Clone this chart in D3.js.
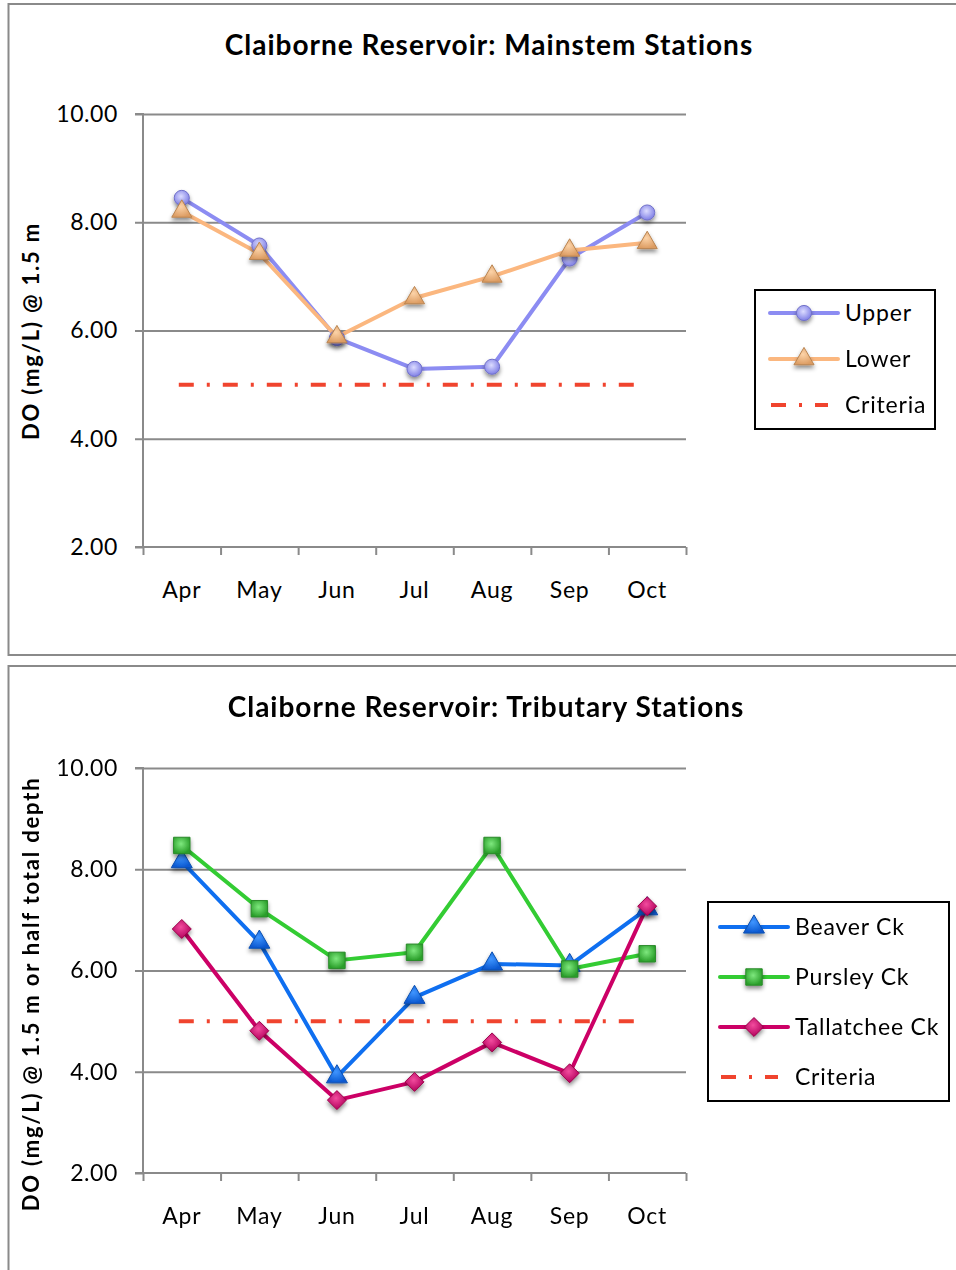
<!DOCTYPE html>
<html>
<head>
<meta charset="utf-8">
<script src="https://cdn.jsdelivr.net/npm/d3@7"></script>
<style>
  html, body { margin: 0; padding: 0; background: #fff; }
  svg { display: block; font-family: Lato, "Open Sans", sans-serif; }
</style>
</head>
<body>
<svg id="chart" width="956" height="1270"></svg>
<script>
// Monthly dissolved oxygen (mg/L), Claiborne Reservoir
const months = ["Apr", "May", "Jun", "Jul", "Aug", "Sep", "Oct"];
const yTicks = [2, 4, 6, 8, 10];
const criteriaDO = 5.0;

// Mainstem stations
const upperDO = [8.45, 7.57, 5.86, 5.29, 5.33, 7.33, 8.18];
const lowerDO = [8.20, 7.42, 5.88, 6.60, 7.00, 7.48, 7.62];

// Tributary stations
const beaverDO = [8.15, 6.56, 3.90, 5.47, 6.13, 6.10, 7.22];
const pursleyDO = [8.47, 7.22, 6.20, 6.36, 8.47, 6.03, 6.33];
const tallatcheeDO = [6.82, 4.81, 3.44, 3.80, 4.58, 3.97, 7.27];

const svg = d3.select("#chart");
const defs = svg.append("defs");

// soft shadow under markers
const shadow = defs.append("filter").attr("id", "mk-shadow")
  .attr("x", "-50%").attr("y", "-50%").attr("width", "200%").attr("height", "220%");
shadow.append("feDropShadow").attr("dx", 0).attr("dy", 3)
  .attr("stdDeviation", 2).attr("flood-color", "#000").attr("flood-opacity", 0.45);

function radial(id, inner, outer) {
  const g = defs.append("radialGradient").attr("id", id)
    .attr("cx", "45%").attr("cy", "40%").attr("r", "60%");
  g.append("stop").attr("offset", "0%").attr("stop-color", inner);
  g.append("stop").attr("offset", "100%").attr("stop-color", outer);
}
radial("g-upper", "#dcdcff", "#7f7fe6");
radial("g-lower", "#fcd3a8", "#dc9c62");
radial("g-beaver", "#3f95ff", "#0a58d0");
radial("g-pursley", "#7ee87e", "#2a9e2a");
radial("g-tall", "#f24c9e", "#b3005c");

const criteriaStyle = { color: "#f0442e", dash: "15,13,3,13" };

function drawPanel(cfg) {
  const g = svg.append("g");

  // panel frame
  g.append("rect")
    .attr("x", 8.5).attr("y", cfg.frameTop)
    .attr("width", 970).attr("height", cfg.frameHeight)
    .attr("fill", "none").attr("stroke", "#8a8a8a").attr("stroke-width", 2);

  const x = d3.scaleBand().domain(months).range([143, 686]);
  const xc = m => x(m) + x.bandwidth() / 2;
  const y = d3.scaleLinear().domain([2, 10]).range([cfg.bottom, cfg.top]);

  // title
  g.append("text")
    .attr("x", cfg.titleX).attr("y", cfg.titleY)
    .attr("text-anchor", "middle")
    .attr("font-size", 28).attr("font-weight", "bold").attr("letter-spacing", 1)
    .attr("fill", "#000")
    .text(cfg.title);

  // horizontal gridlines
  g.append("g")
    .attr("transform", "translate(143,0)")
    .call(d3.axisLeft(y).tickValues(yTicks.filter(v => v > 2)).tickSize(-543).tickFormat(""))
    .call(s => s.select(".domain").remove())
    .call(s => s.selectAll("line").attr("stroke", "#8a8a8a").attr("stroke-width", 2));

  // y axis
  g.append("g")
    .attr("transform", "translate(143,0)")
    .call(d3.axisLeft(y).tickValues(yTicks).tickSize(8).tickPadding(17).tickFormat(d3.format(".2f")))
    .call(s => s.select(".domain").attr("stroke", "#8a8a8a").attr("stroke-width", 2).attr("d", `M-8,${y(10)}H0V${y(2)}H-8`))
    .call(s => s.selectAll("line").attr("stroke", "#8a8a8a").attr("stroke-width", 2))
    .call(s => s.selectAll("text").attr("font-size", 23).attr("letter-spacing", 0.6)
      .attr("fill", "#000").attr("font-family", "Lato, sans-serif"));

  // x axis: boundary ticks
  const xb = d3.scaleLinear().domain([0, months.length]).range([143, 686]);
  g.append("g")
    .attr("transform", `translate(0,${cfg.bottom})`)
    .call(d3.axisBottom(xb).tickValues(d3.range(months.length + 1)).tickSize(8).tickFormat(""))
    .call(s => s.select(".domain").attr("stroke", "#8a8a8a").attr("stroke-width", 2).attr("d", "M143,0H686"))
    .call(s => s.selectAll("line").attr("stroke", "#8a8a8a").attr("stroke-width", 2));

  // x axis: month labels
  g.append("g")
    .attr("transform", `translate(0,${cfg.bottom})`)
    .call(d3.axisBottom(x).tickSize(0).tickPadding(35))
    .call(s => s.select(".domain").remove())
    .call(s => s.selectAll("text").attr("font-size", 23).attr("letter-spacing", 0.8)
      .attr("fill", "#000").attr("font-family", "Lato, sans-serif"));

  // y axis title
  g.append("text")
    .attr("transform", `translate(39,${cfg.yLabelY}) rotate(-90)`)
    .attr("text-anchor", "middle")
    .attr("font-size", 22).attr("font-weight", "bold").attr("letter-spacing", 1.8)
    .attr("fill", "#000")
    .text(cfg.yLabel);

  // criteria line
  g.append("line")
    .attr("x1", xc(months[0]) - 3).attr("x2", xc(months[months.length - 1]) - 2)
    .attr("y1", y(criteriaDO)).attr("y2", y(criteriaDO))
    .attr("stroke", criteriaStyle.color).attr("stroke-width", 4)
    .attr("stroke-dasharray", criteriaStyle.dash);

  const line = d3.line().x((d, i) => xc(months[i])).y(d => y(d));

  // series lines
  cfg.series.forEach(s => {
    g.append("path").datum(s.values)
      .attr("d", line)
      .attr("fill", "none").attr("stroke", s.color).attr("stroke-width", 4)
      .attr("stroke-linejoin", "round");
  });

  // series markers
  cfg.series.forEach(s => {
    g.append("g").attr("filter", "url(#mk-shadow)")
      .selectAll("path").data(s.values).join("path")
      .attr("transform", (d, i) => `translate(${xc(months[i])},${y(d)})`)
      .attr("d", d3.symbol(s.symbol, s.size)())
      .attr("fill", `url(#${s.grad})`)
      .attr("stroke", s.edge).attr("stroke-width", 1);
  });

  // legend
  const lg = g.append("g");
  lg.append("rect")
    .attr("x", cfg.legend.x).attr("y", cfg.legend.y)
    .attr("width", cfg.legend.w).attr("height", cfg.legend.h)
    .attr("fill", "#fff").attr("stroke", "#000").attr("stroke-width", 2);
  const items = cfg.series.map(s => ({ name: s.name, s }))
    .concat([{ name: "Criteria", s: null }]);
  items.forEach((it, i) => {
    const ry = cfg.legend.rowY0 + i * cfg.legend.rowStep;
    const x0 = cfg.legend.x + cfg.legend.lineX0;
    const x1 = x0 + 68;
    if (it.s) {
      lg.append("line").attr("x1", x0).attr("x2", x1).attr("y1", ry).attr("y2", ry)
        .attr("stroke", it.s.color).attr("stroke-width", 4).attr("stroke-linecap", "round");
      lg.append("path")
        .attr("transform", `translate(${(x0 + x1) / 2},${ry})`)
        .attr("d", d3.symbol(it.s.symbol, it.s.size)())
        .attr("fill", `url(#${it.s.grad})`).attr("stroke", it.s.edge).attr("stroke-width", 1)
        .attr("filter", "url(#mk-shadow)");
    } else {
      lg.append("line").attr("x1", x0 + 1).attr("x2", x1 - 10).attr("y1", ry).attr("y2", ry)
        .attr("stroke", criteriaStyle.color).attr("stroke-width", 4)
        .attr("stroke-dasharray", "15,13,3,13");
    }
    lg.append("text")
      .attr("x", x1 + 7).attr("y", ry).attr("dy", "0.36em")
      .attr("font-size", 23).attr("letter-spacing", 0.8).attr("fill", "#000")
      .text(it.name);
  });
}

drawPanel({
  frameTop: 4, frameHeight: 651,
  top: 114, bottom: 547,
  title: "Claiborne Reservoir: Mainstem Stations", titleX: 489, titleY: 55,
  yLabel: "DO (mg/L) @ 1.5 m", yLabelY: 331,
  series: [
    { name: "Upper", values: upperDO, color: "#8c8cf2", symbol: d3.symbolCircle, size: 180, grad: "g-upper", edge: "#7070c8" },
    { name: "Lower", values: lowerDO, color: "#fbb77f", symbol: d3.symbolTriangle, size: 175, grad: "g-lower", edge: "#b98450" }
  ],
  legend: { x: 755, y: 290, w: 180, h: 139, rowY0: 313, rowStep: 46, lineX0: 15 }
});

drawPanel({
  frameTop: 666, frameHeight: 640,
  top: 768, bottom: 1173,
  title: "Claiborne Reservoir: Tributary Stations", titleX: 486, titleY: 717,
  yLabel: "DO (mg/L) @ 1.5 m or half total depth", yLabelY: 994,
  series: [
    { name: "Beaver Ck", values: beaverDO, color: "#0f6ff0", symbol: d3.symbolTriangle, size: 190, grad: "g-beaver", edge: "#0a4fb0" },
    { name: "Pursley Ck", values: pursleyDO, color: "#33cc33", symbol: d3.symbolSquare, size: 270, grad: "g-pursley", edge: "#2a8a2a" },
    { name: "Tallatchee Ck", values: tallatcheeDO, color: "#cc0066", symbol: d3.symbolDiamond2, size: 230, grad: "g-tall", edge: "#9a0048" }
  ],
  legend: { x: 708, y: 902, w: 241, h: 199, rowY0: 927, rowStep: 50, lineX0: 12 }
});
</script>
</body>
</html>
